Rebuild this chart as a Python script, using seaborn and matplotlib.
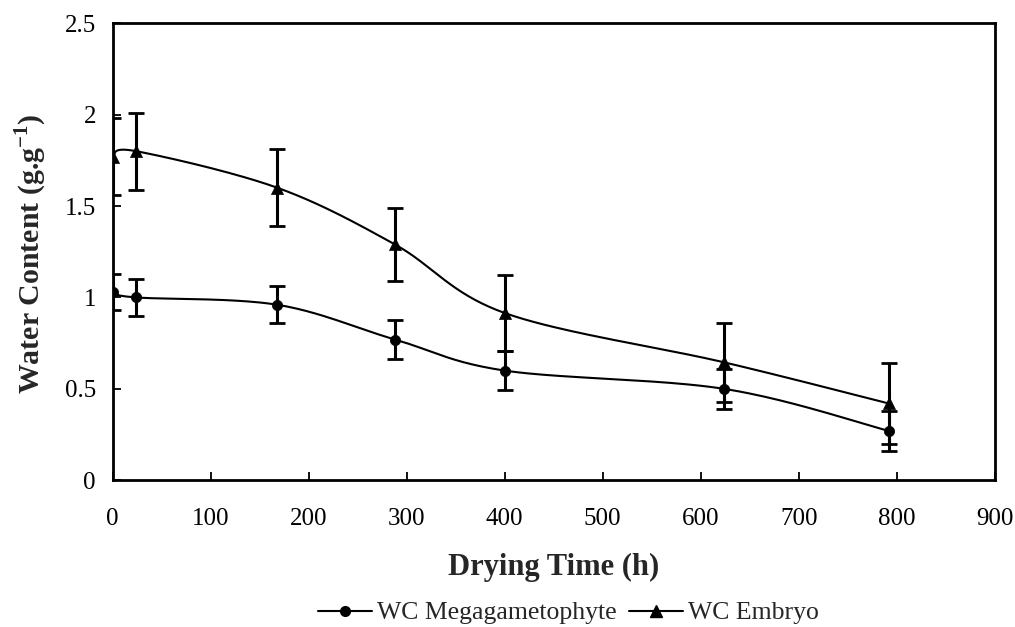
import numpy as np
import pandas as pd
import matplotlib
matplotlib.use("Agg")
import matplotlib.pyplot as plt
from matplotlib.lines import Line2D
import seaborn as sns

# Drying time (h) and water content (g/g dry weight) with standard deviations
drying_time = [0, 24, 168, 288, 400, 624, 792]
wc_megagametophyte = [1.03, 1.00, 0.96, 0.77, 0.60, 0.50, 0.27]
sd_megagametophyte = [0.10, 0.10, 0.10, 0.105, 0.105, 0.11, 0.11]
wc_embryo = [1.77, 1.80, 1.60, 1.29, 0.915, 0.645, 0.42]
sd_embryo = [0.21, 0.21, 0.21, 0.20, 0.21, 0.215, 0.22]

x_ticks = [0, 100, 200, 300, 400, 500, 600, 700, 800, 900]
y_ticks = [0, 0.5, 1, 1.5, 2, 2.5]
y_tick_labels = ["0", "0.5", "1", "1.5", "2", "2.5"]

sns.set_theme(style="ticks")
plt.rcParams["font.family"] = ["Liberation Serif", "DejaVu Serif"]
plt.rcParams["mathtext.fontset"] = "custom"
plt.rcParams["mathtext.rm"] = "Liberation Serif"
plt.rcParams["mathtext.bf"] = "Liberation Serif:bold"


def smooth_curve(x, y, n=40):
    """Bezier smoothing through every point (tension 1/6, as in office charts)."""
    x = np.asarray(x, float)
    y = np.asarray(y, float)
    px = np.concatenate([[x[0]], x, [x[-1]]])
    py = np.concatenate([[y[0]], y, [y[-1]]])
    xs, ys = [], []
    t = np.linspace(0, 1, n)
    for i in range(1, len(px) - 2):
        p0 = np.array([px[i], py[i]])
        p3 = np.array([px[i + 1], py[i + 1]])
        c1 = p0 + (np.array([px[i + 1], py[i + 1]]) - np.array([px[i - 1], py[i - 1]])) / 6
        c2 = p3 - (np.array([px[i + 2], py[i + 2]]) - np.array([px[i], py[i]])) / 6
        b = ((1 - t) ** 3)[:, None] * p0 + (3 * (1 - t) ** 2 * t)[:, None] * c1 \
            + (3 * (1 - t) * t ** 2)[:, None] * c2 + (t ** 3)[:, None] * p3
        xs.append(b[:, 0])
        ys.append(b[:, 1])
    return np.concatenate(xs), np.concatenate(ys)


df = pd.DataFrame({
    "time": drying_time * 2,
    "wc": wc_megagametophyte + wc_embryo,
    "sd": sd_megagametophyte + sd_embryo,
    "series": ["WC Megagametophyte"] * len(drying_time) + ["WC Embryo"] * len(drying_time),
})

fig = plt.figure(figsize=(10.15, 6.27), dpi=100)
ax = fig.add_axes([0.111, 0.234, 0.869, 0.729])

styles = {"WC Megagametophyte": "o", "WC Embryo": "^"}
sizes = {"WC Megagametophyte": 55, "WC Embryo": 75}
for name, marker in styles.items():
    sub = df[df["series"] == name]
    sx, sy = smooth_curve(sub["time"], sub["wc"])
    ax.plot(sx, sy, color="black", lw=1.5, zorder=2)
    ax.errorbar(sub["time"], sub["wc"], yerr=sub["sd"], fmt="none",
                ecolor="black", elinewidth=2.2, capsize=5.5, capthick=2.0, zorder=3)
    sns.scatterplot(data=sub, x="time", y="wc", marker=marker, color="black",
                    s=sizes[name], edgecolor="black", linewidth=0.5,
                    legend=False, ax=ax, zorder=4)

ax.set_xlim(0, 900)
ax.set_ylim(0, 2.5)
ax.set_xticks(x_ticks)
ax.set_yticks(y_ticks)
ax.set_yticklabels(y_tick_labels)
ax.tick_params(axis="both", direction="in", length=6, width=1.3,
               labelsize=18, colors="black")
ax.tick_params(axis="x", pad=20)
ax.tick_params(axis="y", pad=12)
for sp in ax.spines.values():
    sp.set_visible(True)
    sp.set_linewidth(2.0)
    sp.set_color("black")

ax.set_xlabel("Drying Time (h)", fontsize=22, fontweight="bold")
ax.xaxis.set_label_coords(0.5, -0.158)
ax.set_ylabel(r"Water Content (g.g$^{\mathbf{-1}}$)", fontsize=21.5,
              fontweight="bold")
ax.yaxis.set_label_coords(-0.072, 0.496)

handles = [
    Line2D([0], [0], color="black", lw=1.5, marker="o", markersize=7),
    Line2D([0], [0], color="black", lw=1.5, marker="^", markersize=8),
]
fig.legend(handles, ["WC Megagametophyte", "WC Embryo"], loc="center",
           bbox_to_anchor=(0.56, 1 - 613 / 627), ncol=2, frameon=False,
           fontsize=18.5, handlelength=2.1, handletextpad=0.2,
           columnspacing=0.45, borderpad=0.1)

fig.savefig("out.png", dpi=100, facecolor="white")
